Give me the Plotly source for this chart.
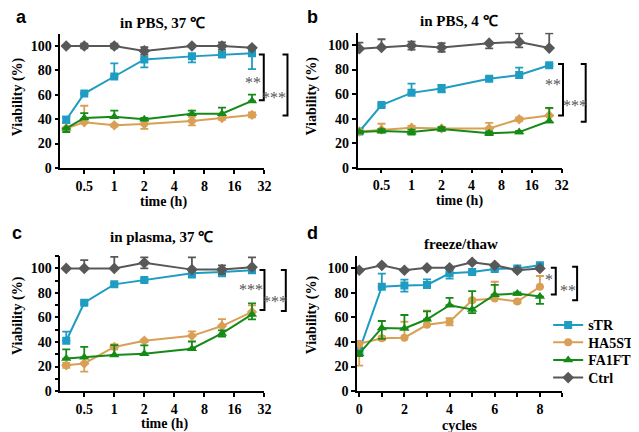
import math
import plotly.graph_objects as go

# ---------------- data ----------------
series_names = ["sTR", "HA5ST", "FA1FT", "Ctrl"]

time_a = [0.33, 0.5, 1, 2, 6, 12, 24]
time_b = [0.3, 0.5, 1, 2, 6, 12, 24]
time_c = [0.33, 0.5, 1, 2, 6, 12, 24]
cycles_d = [0, 1, 2, 3, 4, 5, 6, 7, 8]

time_ticks = [0.5, 1, 2, 4, 8, 16, 32]
time_ticktext = ["0.5", "1", "2", "4", "8", "16", "32"]
viab_ticks = [0, 20, 40, 60, 80, 100]

# panel a: in PBS, 37 C   (value, error up, error down)
str_a = [39.5, 61, 75, 89, 91.5, 93, 94]
str_a_up = [2.5, 0.5, 10.8, 0.5, 2, 1, 1.5]
str_a_dn = [2.5, 0.5, 0, 6.5, 5, 1, 13]
ha_a = [32.5, 37.5, 35, 36, 38.5, 41, 43.5]
ha_a_up = [1, 13.5, 1, 4, 3.5, 1.5, 2]
ha_a_dn = [1, 0, 1, 4, 3.5, 1.5, 2]
fa_a = [32.5, 41, 42, 40, 44.5, 44.5, 55]
fa_a_up = [0, 4, 5, 1, 2.5, 5, 5.2]
fa_a_dn = [3, 1, 1, 1, 1, 1, 0.5]
ctrl_a = [100, 100, 100, 96, 100, 100, 98.5]
ctrl_a_up = [0, 2, 2, 3, 0, 3, 1]
ctrl_a_dn = [0, 2, 2, 3, 0, 3, 1]

# panel b: in PBS, 4 C
str_b = [29.5, 51, 61, 64.5, 72.5, 75.5, 83.5]
str_b_up = [1, 1, 7.5, 3, 1.5, 6, 1]
str_b_dn = [1, 1, 0, 3, 1.5, 0, 1]
ha_b = [29.5, 31, 32.5, 32, 32, 39.5, 42.5]
ha_b_up = [1, 4.8, 1.5, 1, 4.5, 1.5, 5.9]
ha_b_dn = [1, 0, 1.5, 1, 0, 1.5, 0]
fa_b = [29, 30, 29, 31.5, 28, 29, 38]
fa_b_up = [1, 1.5, 2, 1.5, 1.5, 1, 10.7]
fa_b_dn = [1, 1.5, 2, 1.5, 1.5, 1, 1]
ctrl_b = [97, 98, 99.5, 98, 101.5, 102.5, 97.5]
ctrl_b_up = [5, 6.7, 3.2, 3.5, 0, 7, 12]
ctrl_b_dn = [0, 0, 3.2, 3.5, 4.3, 4.5, 0]

# panel c: in plasma, 37 C
str_c = [41, 72, 87, 90.5, 96, 97, 98.5]
str_c_up = [7.5, 1, 1, 1, 0, 0, 0]
str_c_dn = [0, 1, 1, 1, 3.5, 3.5, 2]
ha_c = [21, 22.5, 36, 41, 45, 53, 64.5]
ha_c_up = [2, 0, 2, 1, 3.7, 5.6, 5.3]
ha_c_dn = [2, 6.7, 2, 1, 0, 0, 0]
fa_c = [26.5, 27.5, 29.5, 30.5, 34.5, 47, 62.5]
fa_c_up = [7.5, 8.5, 8, 6.7, 5.9, 2.5, 9]
fa_c_dn = [0, 0, 0, 0, 0, 2.5, 4]
ctrl_c = [100, 100, 100, 104.5, 99, 99, 101]
ctrl_c_up = [0, 6.7, 9.5, 4.5, 10, 3.5, 8]
ctrl_c_dn = [0, 0, 0, 4.5, 0, 3.5, 0]

# panel d: freeze/thaw
str_d = [33, 85, 86, 86.5, 96, 97, 99.5, 100, 102.5]
str_d_up = [2, 10.7, 4.8, 4.5, 0, 1, 1, 1, 1]
str_d_dn = [2, 0, 5, 0, 4.3, 1, 1, 1, 1]
ha_d = [38.5, 43, 43.5, 54, 56.5, 74, 75.5, 73, 85]
ha_d_up = [0, 1.5, 13, 11.5, 3, 1, 13.6, 1, 8.8]
ha_d_dn = [17.8, 1.5, 0, 0, 3, 1, 0, 1, 0]
fa_d = [30.5, 51.5, 51, 58.5, 70, 66.5, 78.5, 79.5, 77]
fa_d_up = [2, 5.6, 11, 6.5, 6, 15, 8, 1, 0]
fa_d_dn = [2, 9, 0, 0, 0, 3, 0, 1, 6]
ctrl_d = [98.5, 102.5, 98.5, 100.5, 100.5, 105, 102.5, 98.5, 100]
ctrl_d_up = [0.8, 0.8, 0.8, 0.8, 0.8, 0.8, 0.8, 0.8, 0.8]
ctrl_d_dn = [0.8, 0.8, 0.8, 0.8, 0.8, 0.8, 0.8, 0.8, 0.8]

panel_titles = ["in PBS, 37 ℃", "in PBS, 4 ℃", "in plasma, 37 ℃", "freeze/thaw"]
panel_letters = ["a", "b", "c", "d"]
x_titles = ["time (h)", "time (h)", "time (h)", "cycles"]
y_title = "Viability (%)"

# significance brackets: (top, bottom, label) per panel, inner then outer
sig_a = [(93, 55.5, "**"), (93, 43, "***")]
sig_b = [(84.5, 42.5, "**"), (84.5, 37.5, "***")]
sig_c = [(98.7, 66, "***"), (98.7, 65.3, "***")]
sig_d = [(100.5, 78.7, "*"), (101.3, 74, "**")]

# ---------------- styling ----------------
W, H = 639, 432
def px(x):
    return x / W
def py(y):
    return 1 - y / H

colors = {"sTR": "#1f9cc2", "HA5ST": "#d9a055", "FA1FT": "#168a16", "Ctrl": "#585858"}
sym_abc = {"sTR": "square", "HA5ST": "diamond", "FA1FT": "triangle-up", "Ctrl": "diamond"}
sym_d = {"sTR": "square", "HA5ST": "circle", "FA1FT": "triangle-up", "Ctrl": "diamond"}
msize = {"sTR": 8, "HA5ST": 8, "FA1FT": 9, "Ctrl": 9}
legend_ids = {"sTR": "legend", "HA5ST": "legend2", "FA1FT": "legend3", "Ctrl": "legend4"}
legend_y = {"sTR": 323.3, "HA5ST": 341, "FA1FT": 359, "Ctrl": 377}

SERIF = "Liberation Serif, Times New Roman, serif"
SANS = "Liberation Sans, Arial, sans-serif"

panels = [
    (time_a, [(str_a, str_a_up, str_a_dn), (ha_a, ha_a_up, ha_a_dn),
              (fa_a, fa_a_up, fa_a_dn), (ctrl_a, ctrl_a_up, ctrl_a_dn)], sym_abc),
    (time_b, [(str_b, str_b_up, str_b_dn), (ha_b, ha_b_up, ha_b_dn),
              (fa_b, fa_b_up, fa_b_dn), (ctrl_b, ctrl_b_up, ctrl_b_dn)], sym_abc),
    (time_c, [(str_c, str_c_up, str_c_dn), (ha_c, ha_c_up, ha_c_dn),
              (fa_c, fa_c_up, fa_c_dn), (ctrl_c, ctrl_c_up, ctrl_c_dn)], sym_abc),
    (cycles_d, [(str_d, str_d_up, str_d_dn), (ha_d, ha_d_up, ha_d_dn),
                (fa_d, fa_d_up, fa_d_dn), (ctrl_d, ctrl_d_up, ctrl_d_dn)], sym_d),
]

fig = go.Figure()
for i, (xs, data, syms) in enumerate(panels):
    ax = "" if i == 0 else str(i + 1)
    for name, (vals, up, dn) in zip(series_names, data):
        fig.add_trace(go.Scatter(
            x=xs, y=vals, name=name, mode="lines+markers",
            xaxis="x" + ax, yaxis="y" + ax,
            line=dict(color=colors[name], width=2),
            marker=dict(symbol=syms[name], size=msize[name], color=colors[name]),
            error_y=dict(type="data", symmetric=False, array=up, arrayminus=dn,
                         visible=True, color=colors[name], thickness=1.8, width=4),
            showlegend=(i == 3), legendgroup=name, legend=legend_ids[name],
        ))

# pixel layout of each plot area (left, right, top(=110), bottom(=0))
boxes = [
    (52, 258.7, 26.3, 163),
    (353, 559.7, 25.2, 162.7),
    (52, 258.7, 252.8, 390.3),
    (352.4, 560.5, 252.8, 390.3),
]

tickfont = dict(family=SERIF, size=14, color="black", weight="bold")
common_axis = dict(showline=True, linecolor="black", linewidth=1.5, ticks="outside",
                   ticklen=4, tickwidth=1.5, tickcolor="black", showgrid=False,
                   zeroline=False, tickfont=tickfont)

layout_axes = {}
for i, (l, r, t, b) in enumerate(boxes):
    k = "" if i == 0 else str(i + 1)
    xd = dict(common_axis, domain=[px(l), px(r)], anchor="y" + k)
    if i < 3:
        xd.update(type="log", range=[math.log10(0.288), math.log10(32)],
                  tickvals=time_ticks, ticktext=time_ticktext)
    else:
        xd.update(type="linear", range=[-0.1, 9], tickvals=[0, 2, 4, 6, 8],
                  minor=dict(dtick=1, tick0=0, ticks="outside", ticklen=4,
                             tickwidth=1.5, tickcolor="black"))
    yd = dict(common_axis, domain=[py(b), py(t)], anchor="x" + k, range=[0, 110],
              tickvals=viab_ticks)
    if i == 2:
        yd.update(minor=dict(dtick=10, tick0=0, ticks="outside", ticklen=4,
                             tickwidth=1.5, tickcolor="black"))
    layout_axes["xaxis" + k] = xd
    layout_axes["yaxis" + k] = yd

annotations = []
title_pos = [(155.5, 15), (456, 13), (154.5, 233), (457.5, 240)]
letter_pos = [(13, 9), (307, 9), (8, 229), (307, 229)]
xtitle_pos = [(156, 198), (456, 197), (157, 424), (457, 425)]
ytitle_pos = [(9, 90), (307, 90), (9, 313), (307, 313)]
for i in range(4):
    annotations.append(dict(text=panel_titles[i], x=px(title_pos[i][0]), y=py(title_pos[i][1]),
                            xref="paper", yref="paper", showarrow=False,
                            xanchor="center", yanchor="middle",
                            font=dict(family=SERIF, size=15, color="black", weight="bold")))
    annotations.append(dict(text=panel_letters[i], x=px(letter_pos[i][0]), y=py(letter_pos[i][1]),
                            xref="paper", yref="paper", showarrow=False,
                            xanchor="center", yanchor="middle",
                            font=dict(family=SANS, size=18, color="black", weight="bold")))
    annotations.append(dict(text=x_titles[i], x=px(xtitle_pos[i][0]), y=py(xtitle_pos[i][1]),
                            xref="paper", yref="paper", showarrow=False,
                            xanchor="center", yanchor="middle",
                            font=dict(family=SERIF, size=14, color="black", weight="bold")))
    annotations.append(dict(text=y_title, x=px(ytitle_pos[i][0]), y=py(ytitle_pos[i][1]),
                            xref="paper", yref="paper", showarrow=False, textangle=-90,
                            xanchor="center", yanchor="middle",
                            font=dict(family=SERIF, size=14, color="black", weight="bold")))

# brackets: pixel x of vertical line, pixel x/label y (data)
bracket_x = [(258, 282), (561, 584), (258.7, 280.3), (553.7, 575.3)]
label_x = [(247, 268), (550.7, 573), (244.7, 269), (547.3, 566.3)]
label_y = [(70, 57.5), (68, 51), (82.5, 73), (91, 82)]
sigs = [sig_a, sig_b, sig_c, sig_d]
shapes = []
arm = 5
for i in range(4):
    k = "" if i == 0 else str(i + 1)
    for j, (top, bot, lab) in enumerate(sigs[i]):
        bx = bracket_x[i][j]
        path = "M {a},{t} L {b},{t} L {b},{bo} L {a},{bo}".format(
            a=px(bx - arm), b=px(bx), t=top, bo=bot)
        shapes.append(dict(type="path", path=path, xref="paper", yref="y" + k,
                           line=dict(color="black", width=2)))
        annotations.append(dict(text=lab, x=px(label_x[i][j]), y=label_y[i][j],
                                xref="paper", yref="y" + k, showarrow=False,
                                xanchor="center", yanchor="middle",
                                font=dict(family=SERIF, size=16, color="#555555")))

legend_font = dict(family=SERIF, size=14, color="black", weight="bold")
legends = {}
for name in series_names:
    legends[legend_ids[name]] = dict(
        x=px(546), y=py(legend_y[name]), xanchor="left", yanchor="middle",
        font=legend_font, bgcolor="rgba(0,0,0,0)", itemwidth=30,
        borderwidth=0)

fig.update_layout(
    width=W, height=H, margin=dict(l=0, r=0, t=0, b=0),
    paper_bgcolor="white", plot_bgcolor="white",
    annotations=annotations, shapes=shapes,
    **legends,
    **layout_axes,
)

fig.write_html("out.html")
